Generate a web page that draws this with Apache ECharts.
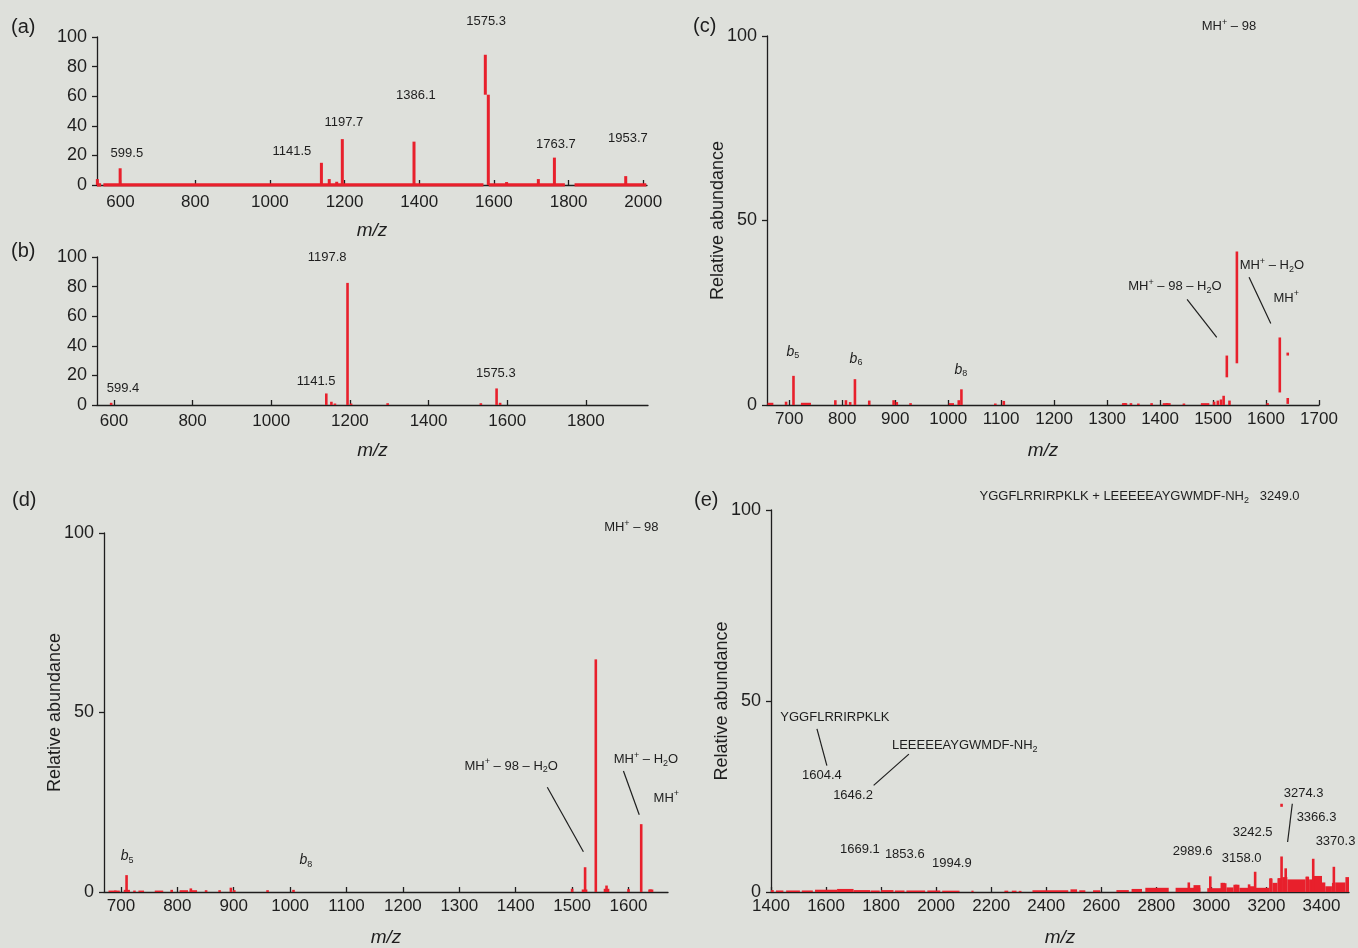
<!DOCTYPE html>
<html><head><meta charset="utf-8">
<script src="https://cdn.jsdelivr.net/npm/echarts@6/dist/echarts.min.js"></script>
<style>html,body{margin:0;padding:0;background:#dee0db}#c{width:1358px;height:948px}</style>
</head><body><div id="c"></div>
<script>
// ---------- panel (a) ----------
const aTicks = [600, 800, 1000, 1200, 1400, 1600, 1800, 2000];
const aMz  = [538, 599, 1138, 1159, 1179, 1194, 1386, 1577, 1585, 1634, 1719, 1762, 1953];
const aTop = [4, 11.3, 15, 4, 2.2, 31, 29.3, 88, 61, 2, 4, 18.5, 6];
const aLow = [0, 0, 0, 0, 0, 0, 0, 61, 0, 0, 0, 0, 0];
const aBandFrom = [537, 554, 1586, 1816];
const aBandTo   = [548, 1572, 1790, 2008];
const aBandH    = [1.2, 1.2, 1.2, 1.2];
const aLabM = [617, 1059, 1198, 1391, 1579, 1766, 1959];
const aLabV = [21, 23, 42.6, 60.8, 110.8, 27.7, 31.8];
const aLabT = ['599.5', '1141.5', '1197.7', '1386.1', '1575.3', '1763.7', '1953.7'];

// ---------- panel (b) ----------
const bTicks = [600, 800, 1000, 1200, 1400, 1600, 1800];
const bMz  = [593, 1140, 1153, 1162, 1194, 1203, 1296, 1533, 1573, 1582];
const bTop = [1.5, 7.8, 2.2, 1, 82.5, 1, 1.2, 1.2, 11.2, 1.5];
const bLow = [0, 0, 0, 0, 0, 0, 0, 0, 0, 0];
const bLabM = [623, 1114, 1142, 1571];
const bLabV = [11.5, 16.2, 100, 21.6];
const bLabT = ['599.4', '1141.5', '1197.8', '1575.3'];

// ---------- panel (c) ----------
const cTicks = [700, 800, 900, 1000, 1100, 1200, 1300, 1400, 1500, 1600, 1700];
const cMz  = [694, 708, 787, 807, 815, 824, 851, 897, 903, 929, 1020, 1025, 1089, 1105, 1333, 1345, 1359, 1384, 1413, 1445, 1502, 1509, 1515, 1520, 1526, 1531, 1545, 1603, 1626, 1641, 1641];
const cTop = [0.9, 7.9, 1.3, 1.3, 0.8, 7.0, 1.2, 1.3, 0.8, 0.5, 1.3, 4.25, 0.4, 1.1, 0.5, 0.5, 0.4, 0.5, 0.5, 0.4, 0.9, 1.2, 1.5, 2.5, 13.4, 1.2, 41.6, 0.5, 18.3, 14.2, 1.9];
const cLow = [0, 0, 0, 0, 0, 0, 0, 0, 0, 0, 0, 0, 0, 0, 0, 0, 0, 0, 0, 0, 0, 0, 0, 0, 7.5, 0, 11.3, 0, 3.4, 13.4, 0.3];
const cBandFrom = [659, 722, 1001, 1328, 1405, 1477];
const cBandTo   = [670, 741, 1011, 1338, 1420, 1493];
const cBandH    = [0.6, 0.6, 0.5, 0.5, 0.5, 0.5];
const cLabM = [1530, 1428, 1611, 1638, 707, 826, 1024];
const cLabV = [102.7, 32, 37.7, 29, 14.4, 12.5, 9.5];
const cLabT = ['MH{p|+} – 98', 'MH{p|+} – 98 – H{s|2}O', 'MH{p|+} – H{s|2}O', 'MH{p|+}', '{i|b}{s|5}', '{i|b}{s|6}', '{i|b}{s|8}'];
const cLeadFromM = [1451, 1568], cLeadFromV = [28.6, 34.6];
const cLeadToM   = [1507, 1609], cLeadToV   = [18.3, 22.1];

// ---------- panel (d) ----------
const dTicks = [700, 800, 900, 1000, 1100, 1200, 1300, 1400, 1500, 1600];
const dMz  = [690, 710, 724, 790, 824, 851, 875, 895, 901, 960, 1006, 1500, 1523, 1542, 1561, 1600, 1622.5, 1639];
const dTop = [0.4, 4.7, 0.4, 0.6, 1.0, 0.5, 0.5, 1.2, 0.5, 0.5, 0.6, 0.9, 6.9, 64.8, 1.8, 0.8, 18.9, 0.7];
const dLow = [0, 0, 0, 0, 0, 0, 0, 0, 0, 0, 0, 0, 0, 0, 0, 0, 0, 0];
const dBandFrom = [678, 705, 731, 760, 804, 822, 1517, 1556, 1635];
const dBandTo   = [698, 716, 741, 775, 819, 835, 1527, 1566, 1644];
const dBandH    = [0.4, 0.6, 0.4, 0.4, 0.5, 0.5, 0.7, 0.9, 0.7];
const dLabM = [1605, 1392, 1631, 1667, 711, 1028];
const dLabV = [101.6, 35.1, 36.8, 26.2, 10, 8.9];
const dLabT = ['MH{p|+} – 98', 'MH{p|+} – 98 – H{s|2}O', 'MH{p|+} – H{s|2}O', 'MH{p|+}', '{i|b}{s|5}', '{i|b}{s|8}'];
const dLeadFromM = [1456, 1591], dLeadFromV = [29.2, 33.7];
const dLeadToM   = [1520, 1619], dLeadToV   = [11.2, 21.5];

// ---------- panel (e) ----------
const eTicks = [1400, 1600, 1800, 2000, 2200, 2400, 2600, 2800, 3000, 3200, 3400];
const eMz  = [2918, 2996, 3038, 3045, 3090, 3137, 3159, 3216, 3247, 3255, 3255, 3270, 3348, 3370, 3445];
const eTop = [2.5, 4.1, 2.4, 2.4, 1.9, 2.0, 5.3, 3.6, 3.6, 9.3, 23.1, 6.2, 4.0, 8.7, 6.6];
const eLow = [0, 0, 0, 0, 0, 0, 0, 0, 0, 0, 22.3, 0, 0, 0, 0];
const eBandFrom = [1400, 1418, 1455, 1512, 1560, 1640, 1700, 1762, 1800, 1850, 1892, 1968, 2022, 2128, 2248, 2275, 2300, 2350, 2488, 2520, 2570, 2655, 2710, 2760, 2870, 2935, 2985, 3035, 3055, 3080, 3102, 3135, 3160, 3210, 3222, 3240, 3258, 3276, 3342, 3355, 3372, 3402, 3414, 3438, 3450, 3487];
const eBandTo   = [1410, 1445, 1505, 1552, 1640, 1700, 1760, 1795, 1845, 1885, 1960, 2015, 2085, 2136, 2262, 2292, 2310, 2480, 2512, 2542, 2596, 2700, 2748, 2845, 2960, 2960, 3035, 3055, 3080, 3102, 3135, 3160, 3210, 3222, 3240, 3258, 3276, 3342, 3355, 3372, 3402, 3414, 3438, 3450, 3487, 3500];
const eBandH    = [0.5, 0.4, 0.4, 0.4, 0.6, 0.8, 0.5, 0.4, 0.5, 0.4, 0.4, 0.4, 0.35, 0.35, 0.35, 0.35, 0.3, 0.45, 0.7, 0.45, 0.45, 0.5, 0.8, 1.1, 1.1, 1.8, 1.0, 2.3, 1.2, 1.9, 1.1, 1.5, 1.1, 3.5, 2.4, 3.6, 3.9, 3.3, 4.0, 3.3, 4.2, 2.5, 1.5, 2.4, 2.5, 3.9];
const eLabM = [2739, 1632, 2104, 1585, 1698, 1723, 1886, 2057, 2932, 3110, 3150, 3335, 3382, 3451];
const eLabV = [103.6, 45.8, 38.4, 30.5, 25.4, 11.2, 9.9, 7.4, 10.7, 8.7, 15.5, 25.7, 19.6, 13.2];
const eLabT = ['YGGFLRRIRPKLK + LEEEEEAYGWMDF-NH{s|2}   3249.0', 'YGGFLRRIRPKLK', 'LEEEEEAYGWMDF-NH{s|2}', '1604.4', '1646.2', '1669.1', '1853.6', '1994.9', '2989.6', '3158.0', '3242.5', '3274.3', '3366.3', '3370.3'];
const eLeadFromM = [1567, 1901, 3294], eLeadFromV = [42.7, 36.1, 23.1];
const eLeadToM   = [1603, 1773, 3277], eLeadToV   = [33.1, 27.9, 13.1];

// ---------- styling ----------
const COND = '"Liberation Sans Narrow","Arial Narrow","Liberation Sans",Arial,sans-serif';
const SANS = '"Liberation Sans",Arial,sans-serif';
const RED = '#e8202c';
const INK = '#1e1e1e';
const TICK_FS = 17, LAB_FS = 13;

function zip3(a, b, c) { return a.map((v, k) => [v, b[k], c[k]]); }
function zip4(a, b, c, d) { return a.map((v, k) => [v, b[k], c[k], d[k]]); }

function stickItem(w) {
  return function (params, api) {
    const p0 = api.coord([api.value(0), api.value(2)]);
    const p1 = api.coord([api.value(0), api.value(1)]);
    return { type: 'line', shape: { x1: p0[0], y1: p0[1], x2: p1[0], y2: p1[1] }, style: { stroke: RED, lineWidth: w } };
  };
}
function bandItem(ext) {
  return function (params, api) {
    const p0 = api.coord([api.value(0), api.value(2)]);
    const p1 = api.coord([api.value(1), 0]);
    return { type: 'rect', shape: { x: p0[0], y: p0[1], width: Math.max(1.5, p1[0] - p0[0]), height: p1[1] - p0[1] + ext }, style: { fill: RED } };
  };
}
function richFor(size) {
  const sm = Math.round(size * 0.68);
  return {
    p: { fontSize: sm, fontFamily: COND, fill: INK, verticalAlign: 'top', lineHeight: sm },
    s: { fontSize: sm, fontFamily: COND, fill: INK, verticalAlign: 'bottom', lineHeight: sm },
    i: { fontSize: size + 1, fontFamily: COND, fontStyle: 'italic', fill: INK, lineHeight: size + 4 }
  };
}
function textItem(texts, size) {
  return function (params, api) {
    const p = api.coord([api.value(0), api.value(1)]);
    return { type: 'text', x: p[0], y: p[1], style: { text: texts[params.dataIndex], fill: INK, fontFamily: COND, fontSize: size, lineHeight: size + 4, align: 'center', verticalAlign: 'middle', rich: richFor(size) } };
  };
}
function leaderItem(params, api) {
  const p0 = api.coord([api.value(0), api.value(1)]);
  const p1 = api.coord([api.value(2), api.value(3)]);
  return { type: 'line', shape: { x1: p0[0], y1: p0[1], x2: p1[0], y2: p1[1] }, style: { stroke: INK, lineWidth: 1.2 } };
}

const panels = [
  { grid: { left: 97, top: 37, width: 550, height: 148 }, xmin: 537, xmax: 2010, ticks: aTicks, yint: 20, yname: '',
    mz: aMz, top: aTop, low: aLow, bf: aBandFrom, bt: aBandTo, bh: aBandH, ext: 1.6, lm: aLabM, lv: aLabV, lt: aLabT, w: 3, xm: 9 },
  { grid: { left: 97, top: 257, width: 551, height: 148 }, xmin: 557, xmax: 1958, ticks: bTicks, yint: 20, yname: '',
    mz: bMz, top: bTop, low: bLow, bf: [], bt: [], bh: [], ext: 0, lm: bLabM, lv: bLabV, lt: bLabT, w: 2.6, xm: 8 },
  { grid: { left: 767, top: 36, width: 552, height: 369 }, xmin: 658, xmax: 1700, ticks: cTicks, yint: 50, yname: 'Relative abundance',
    mz: cMz, top: cTop, low: cLow, bf: cBandFrom, bt: cBandTo, bh: cBandH, ext: 0, lm: cLabM, lv: cLabV, lt: cLabT, w: 2.6, xm: 6,
    lf: [cLeadFromM, cLeadFromV, cLeadToM, cLeadToV] },
  { grid: { left: 104, top: 533, width: 564, height: 370 }, xmin: 670, xmax: 1670, ticks: dTicks, yint: 50, yname: 'Relative abundance',
    mz: dMz, top: dTop, low: dLow, bf: dBandFrom, bt: dBandTo, bh: dBandH, ext: 0, lm: dLabM, lv: dLabV, lt: dLabT, w: 2.6, xm: 6,
    lf: [dLeadFromM, dLeadFromV, dLeadToM, dLeadToV] },
  { grid: { left: 771, top: 510, width: 578, height: 393 }, xmin: 1400, xmax: 3500, ticks: eTicks, yint: 50, yname: 'Relative abundance',
    mz: eMz, top: eTop, low: eLow, bf: eBandFrom, bt: eBandTo, bh: eBandH, ext: 0, lm: eLabM, lv: eLabV, lt: eLabT, w: 2.6, xm: 6,
    lf: [eLeadFromM, eLeadFromV, eLeadToM, eLeadToV] }
];

const grid = [], xAxis = [], yAxis = [], series = [];
panels.forEach((P, i) => {
  grid.push(Object.assign({ containLabel: false }, P.grid));
  xAxis.push({
    type: 'value', gridIndex: i, min: P.xmin, max: P.xmax,
    name: 'm/z', nameLocation: 'middle', nameGap: 36, nameMoveOverlap: false,
    nameTextStyle: { fontFamily: SANS, fontStyle: 'italic', fontSize: 19, color: INK },
    axisLine: { lineStyle: { color: INK, width: 1.3 } },
    axisTick: { inside: true, length: 5, customValues: P.ticks, lineStyle: { color: INK, width: 1.3 } },
    axisLabel: { customValues: P.ticks, formatter: v => String(v), fontFamily: COND, fontSize: TICK_FS, color: INK, margin: P.xm },
    splitLine: { show: false }
  });
  yAxis.push({
    type: 'value', gridIndex: i, min: 0, max: 100, interval: P.yint,
    name: P.yname, nameLocation: 'middle', nameGap: 40, nameMoveOverlap: false,
    nameTextStyle: { fontFamily: SANS, fontSize: 18, color: INK },
    axisLine: { show: true, lineStyle: { color: INK, width: 1.3 } },
    axisTick: { show: true, length: 5, lineStyle: { color: INK, width: 1.3 } },
    axisLabel: { formatter: v => String(v), fontFamily: COND, fontSize: TICK_FS + 1, color: INK, margin: 10 },
    splitLine: { show: false }
  });
  if (P.bf.length) {
    series.push({ type: 'custom', xAxisIndex: i, yAxisIndex: i, renderItem: bandItem(P.ext), encode: { x: [0, 1], y: 2 },
      data: zip3(P.bf, P.bt, P.bh), z: 3, silent: true });
  }
  series.push({ type: 'custom', xAxisIndex: i, yAxisIndex: i, renderItem: stickItem(P.w), encode: { x: 0, y: [1, 2] },
    data: zip3(P.mz, P.top, P.low), z: 4, silent: true });
  series.push({ type: 'custom', xAxisIndex: i, yAxisIndex: i, renderItem: textItem(P.lt, LAB_FS), encode: { x: 0, y: 1 },
    data: P.lm.map((m, k) => [m, P.lv[k]]), z: 5, silent: true });
  if (P.lf) {
    series.push({ type: 'custom', xAxisIndex: i, yAxisIndex: i, renderItem: leaderItem, encode: { x: [0, 2], y: [1, 3] },
      data: zip4(P.lf[0], P.lf[1], P.lf[2], P.lf[3]), z: 5, silent: true });
  }
});

const letters = [['(a)', 11, 27], ['(b)', 11, 251], ['(c)', 693, 26], ['(d)', 12, 500], ['(e)', 694, 500]];
const graphic = letters.map(L => ({ type: 'text', x: L[1], y: L[2],
  style: { text: L[0], fontFamily: COND, fontSize: 20, fill: INK, verticalAlign: 'middle' } }));

const chart = echarts.init(document.getElementById('c'), null, { renderer: 'canvas' });
chart.setOption({
  backgroundColor: '#dee0db',
  animation: false,
  grid, xAxis, yAxis, series, graphic
});
</script></body></html>
